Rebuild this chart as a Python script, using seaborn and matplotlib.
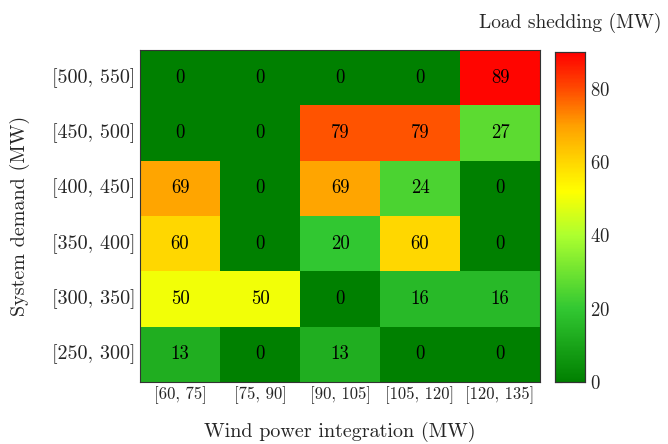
import numpy as np
import pandas as pd
import matplotlib
matplotlib.use("Agg")
import matplotlib.pyplot as plt
from matplotlib.colors import LinearSegmentedColormap
import seaborn as sns

# Wind power bins (columns) and demand bins (rows, top to bottom)
wind_bins = ["[60, 75]", "[75, 90]", "[90, 105]", "[105, 120]", "[120, 135]"]
demand_bins = ["[500, 550]", "[450, 500]", "[400, 450]", "[350, 400]", "[300, 350]", "[250, 300]"]

# Load shedding (MW) per demand row
shed_500_550 = [0, 0, 0, 0, 89]
shed_450_500 = [0, 0, 79, 79, 27]
shed_400_450 = [69, 0, 69, 24, 0]
shed_350_400 = [60, 0, 20, 60, 0]
shed_300_350 = [50, 50, 0, 16, 16]
shed_250_300 = [13, 0, 13, 0, 0]

df = pd.DataFrame(
    [shed_500_550, shed_450_500, shed_400_450, shed_350_400, shed_300_350, shed_250_300],
    index=demand_bins, columns=wind_bins,
)

sns.set_theme(style="white")
plt.rcParams["font.family"] = ["cmr10", "DejaVu Serif"]
plt.rcParams["axes.formatter.use_mathtext"] = True
plt.rcParams["mathtext.fontset"] = "cm"

vmin, vmax = 0, 90
anchors = [
    (0.0, (0/255, 128/255, 0/255)),
    (20/90, (50/255, 200/255, 50/255)),
    (40/90, (173/255, 255/255, 47/255)),
    (52/90, (255/255, 255/255, 0/255)),
    (60/90, (255/255, 215/255, 0/255)),
    (70/90, (255/255, 160/255, 0/255)),
    (80/90, (255/255, 75/255, 0/255)),
    (1.0, (255/255, 0/255, 0/255)),
]
cmap = LinearSegmentedColormap.from_list("shed", anchors)

fig = plt.figure(figsize=(6.68, 4.44), dpi=100)
ax = fig.add_axes([140/668, 1 - 382/444, 400/668, 332/444])
cax = fig.add_axes([555/668, 1 - 382/444, 30/668, 330/444])

sns.heatmap(
    df, ax=ax, cbar_ax=cax, cmap=cmap, vmin=vmin, vmax=vmax,
    annot=True, fmt="d", annot_kws={"color": "black", "fontsize": 13.5},
)

ax.tick_params(axis="both", length=0)
ax.set_yticklabels(demand_bins, rotation=0, fontsize=14.5)
ax.set_xticklabels(wind_bins, rotation=0, fontsize=12)
ax.tick_params(axis="y", pad=3)
ax.tick_params(axis="x", pad=3)
ax.set_xlabel("Wind power integration (MW)", fontsize=14.5, labelpad=13)
ax.set_ylabel("System demand (MW)", fontsize=14.5, labelpad=16)
for s in ax.spines.values():
    s.set_visible(True)
    s.set_color("#333333")
    s.set_linewidth(0.8)

cax.set_yticks([0, 20, 40, 60, 80])
cax.tick_params(axis="y", which="both", direction="in", length=5, color="gray",
                labelsize=13.5, left=True, right=True, width=0.8)
for s in cax.spines.values():
    s.set_visible(True)
    s.set_color("#333333")
    s.set_linewidth(0.8)
cax.set_title("Load shedding (MW)", fontsize=14, pad=17)

fig.savefig("out.png", dpi=100)
